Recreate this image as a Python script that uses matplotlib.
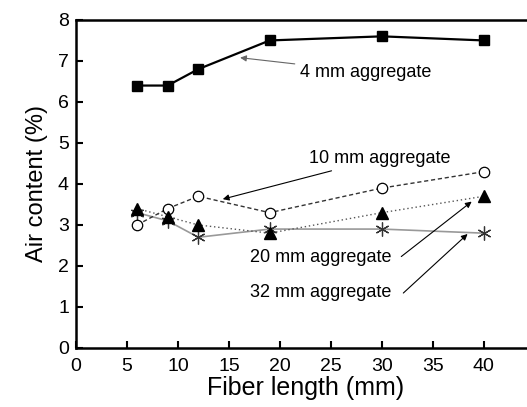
import matplotlib
matplotlib.use("Agg")
import matplotlib.pyplot as plt

plt.rcParams['font.family'] = ['Liberation Sans', 'DejaVu Sans']

fiber_length = [6, 9, 12, 19, 30, 40]
agg_4mm = [6.4, 6.4, 6.8, 7.5, 7.6, 7.5]
agg_10mm = [3.0, 3.4, 3.7, 3.3, 3.9, 4.3]
agg_20mm = [3.4, 3.2, 3.0, 2.8, 3.3, 3.7]
agg_32mm = [3.3, 3.1, 2.7, 2.9, 2.9, 2.8]

fig = plt.figure(figsize=(5.27, 4.07), dpi=100)
ax = fig.add_axes([0.144, 0.145, 0.871, 0.806])

ax.plot(fiber_length, agg_4mm, color='black', lw=1.6, marker='s', ms=6.5, zorder=5)
ax.plot(fiber_length, agg_10mm, color='#333333', lw=1.0, ls=(0, (3, 2)), marker='o', ms=7.5,
        mfc='white', mec='black', mew=0.9, zorder=4)
ax.plot(fiber_length, agg_20mm, color='#555555', lw=1.0, ls=(0, (1, 2)), marker='^', ms=8,
        mfc='black', mec='black', zorder=4)
ax.plot(fiber_length, agg_32mm, color='#999999', lw=1.2, ls='-', marker=(6, 2, 0), ms=10,
        mec='#333333', mew=0.9, zorder=3)

fs = 13
arrow = dict(arrowstyle='-|>', lw=0.8, color='black', mutation_scale=9, shrinkA=0, shrinkB=0)
ax.annotate('4 mm aggregate', xy=(16.1, 7.08), xytext=(22.0, 6.73), fontsize=fs,
            va='center', ha='left',
            arrowprops=dict(arrowstyle='-|>', lw=0.8, color='#666666', mutation_scale=9,
                            shrinkA=2, shrinkB=0))
ax.annotate('10 mm aggregate', xy=(14.4, 3.63), xytext=(22.9, 4.63), fontsize=fs,
            va='center', ha='left',
            arrowprops=dict(arrowstyle='-|>', lw=0.8, color='black', mutation_scale=9,
                            shrinkA=4, shrinkB=0))
ax.text(17.1, 2.2, '20 mm aggregate', fontsize=fs, va='center', ha='left')
ax.annotate('', xy=(38.8, 3.57), xytext=(31.9, 2.23), arrowprops=arrow)
ax.text(17.1, 1.36, '32 mm aggregate', fontsize=fs, va='center', ha='left')
ax.annotate('', xy=(38.4, 2.78), xytext=(32.1, 1.34), arrowprops=arrow)

ax.set_xlim(0, 45)
ax.set_ylim(0, 8)
ax.set_xticks(range(0, 45, 5))
ax.set_yticks(range(0, 9))
ax.tick_params(direction='in', length=5, width=1.5, labelsize=14)
ax.tick_params(axis='x', pad=7)
ax.tick_params(axis='y', pad=5)
for side in ['left', 'bottom', 'top']:
    ax.spines[side].set_linewidth(1.8)
ax.spines['right'].set_visible(False)

ax.set_xlabel('Fiber length (mm)', fontsize=18, labelpad=1)
ax.set_ylabel('Air content (%)', fontsize=17, labelpad=7)

fig.savefig('out.png', dpi=100)
